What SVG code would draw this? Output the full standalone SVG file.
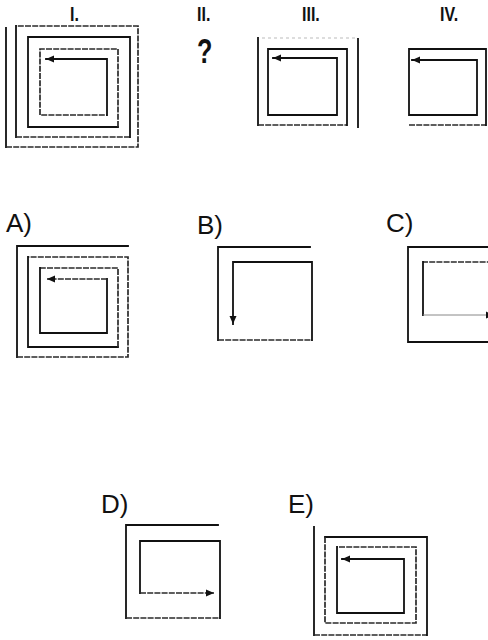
<svg xmlns="http://www.w3.org/2000/svg" width="488" height="640" viewBox="0 0 488 640">
<style>
.s{fill:none;stroke:#111;stroke-width:1.8;stroke-linecap:square;stroke-linejoin:miter}
.d{fill:none;stroke:#2a2a2a;stroke-width:1.7;stroke-dasharray:6 1.2}
.f{fill:none;stroke:#bbb;stroke-width:1;stroke-dasharray:3 3}
.t{fill:none;stroke:#888;stroke-width:1}
.num{font-family:"Liberation Sans",Arial,sans-serif;font-weight:bold;font-size:20px;fill:#111}
.q{font-family:"Liberation Sans",Arial,sans-serif;font-weight:bold;font-size:35px;fill:#111}
.opt{font-family:"Liberation Sans",Arial,sans-serif;font-size:26px;fill:#111}
</style>
<defs>
<marker id="ah" viewBox="0 0 8 8" refX="8" refY="4" markerWidth="8" markerHeight="8" markerUnits="userSpaceOnUse" orient="auto">
<path d="M0,0.5 L8,4 L0,7.5 Z" fill="#111"/>
</marker>
</defs>
<rect width="488" height="640" fill="#fff"/>

<g id="fig-I">
<text class="num" x="70" y="21" transform="translate(70 0) scale(0.8 1) translate(-70 0)">I.</text>
<path class="s" d="M6,28 V147"/>
<path class="d" d="M6,147 H138 V26 H16"/>
<path class="s" d="M16,26 V137"/>
<path class="d" d="M16,137 H130"/>
<path class="s" d="M130,137 V37 H28 V127 H118"/>
<path class="d" d="M118,127 V49 H40 V115 H107"/>
<path class="s" d="M107,115 V59 H46" marker-end="url(#ah)"/>
</g>

<g id="fig-II">
<text class="num" x="197" y="21" transform="translate(197 0) scale(0.8 1) translate(-197 0)">II.</text>
<text class="q" x="197" y="63" transform="translate(197 0) scale(0.72 1) translate(-197 0)">?</text>
</g>

<g id="fig-III">
<text class="num" x="302" y="21" transform="translate(302 0) scale(0.8 1) translate(-302 0)">III.</text>
<path class="f" d="M262,38 H355"/>
<path class="s" d="M258,38 V125"/>
<path class="d" d="M258,125 H347"/>
<path class="s" d="M347,125 V49 H268 V115 H337 V58 H273" marker-end="url(#ah)"/>
<path class="s" d="M358,39 V127"/>
</g>

<g id="fig-IV">
<text class="num" x="440" y="21" transform="translate(440 0) scale(0.8 1) translate(-440 0)">IV.</text>
<path class="d" d="M409,125 H486"/>
<path class="s" d="M486,125 V49 H409 V115 H477 V60 H412" marker-end="url(#ah)"/>
</g>

<g id="opt-A">
<text class="opt" x="6" y="232">A)</text>
<path class="s" d="M128,246 H17 V357"/>
<path class="d" d="M17,357 H128 V257 H28"/>
<path class="s" d="M28,257 V347 H118"/>
<path class="d" d="M118,347 V268 H40"/>
<path class="s" d="M40,268 V333 H107 V279"/>
<path class="d" d="M107,279 H47" marker-end="url(#ah)"/>
</g>

<g id="opt-B">
<text class="opt" x="197" y="234">B)</text>
<path class="s" d="M310,247 H218 V340"/>
<path class="d" d="M218,340 H312"/>
<path class="s" d="M312,340 V262 H233 V324" marker-end="url(#ah)"/>
</g>

<g id="opt-C">
<text class="opt" x="386" y="232">C)</text>
<path class="s" d="M500,247 H408 V342 H500"/>
<path class="d" d="M500,262 H423"/>
<path class="s" d="M423,262 V315"/>
<path class="t" d="M423,315 H494" marker-end="url(#ah)"/>
</g>

<g id="opt-D">
<text class="opt" x="101" y="513">D)</text>
<path class="s" d="M218,525 H126 V618"/>
<path class="d" d="M126,618 H220"/>
<path class="s" d="M220,618 V541 H140 V593"/>
<path class="d" d="M140,593 H214" marker-end="url(#ah)"/>
</g>

<g id="opt-E">
<text class="opt" x="288" y="513">E)</text>
<path class="s" d="M314,527 V635"/>
<path class="d" d="M314,635 H427"/>
<path class="s" d="M427,635 V537 H325"/>
<path class="d" d="M325,537 V623 H416 V547 H337"/>
<path class="s" d="M337,547 V613 H404 V559 H342" marker-end="url(#ah)"/>
</g>
</svg>
